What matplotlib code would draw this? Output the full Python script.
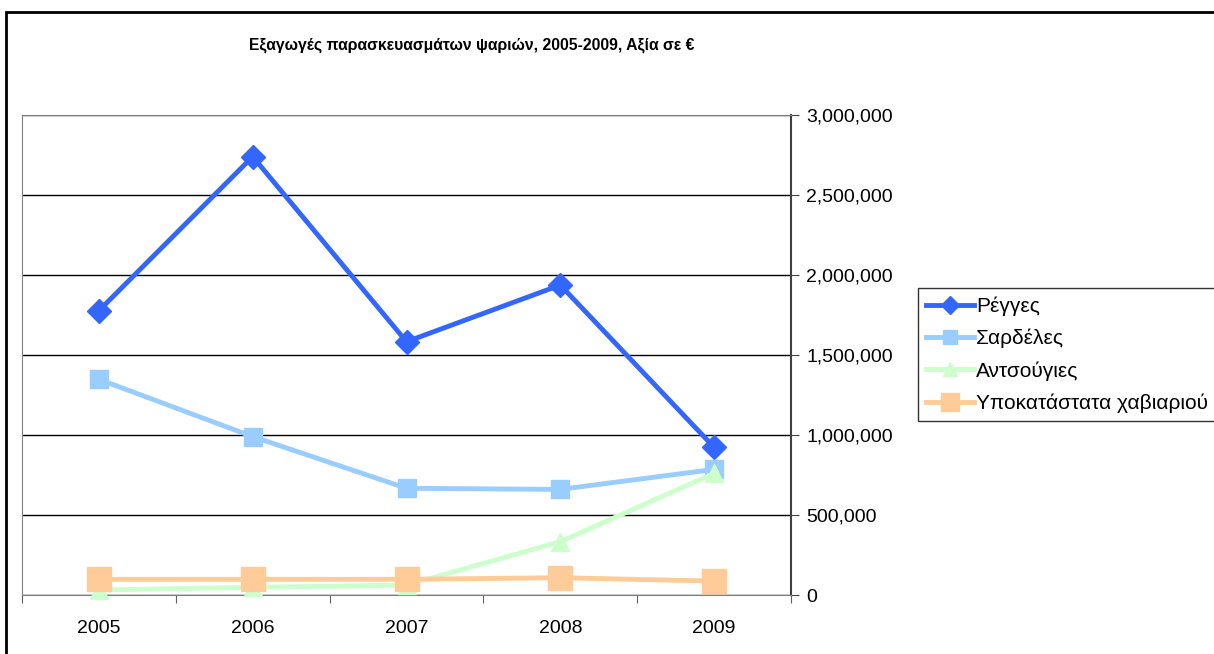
import matplotlib.pyplot as plt
from matplotlib.patches import Rectangle
from matplotlib.ticker import FuncFormatter, MultipleLocator

plt.rcParams['font.family'] = ['Liberation Sans', 'DejaVu Sans']

years = ["2005", "2006", "2007", "2008", "2009"]
herring = [1777000, 2740000, 1583000, 1937000, 923000]
sardines = [1348000, 990000, 667000, 660000, 785000]
anchovies = [31000, 48000, 62000, 333000, 760000]
caviar_subst = [98000, 98000, 98000, 108000, 87000]

labels = ["Ρέγγες", "Σαρδέλες", "Αντσούγιες", "Υποκατάστατα χαβιαριού"]
title = "Εξαγωγές παρασκευασμάτων ψαριών, 2005-2009, Αξία σε €"

W, H = 1214, 654
fig = plt.figure(figsize=(W / 100, H / 100), dpi=100)
ax = fig.add_axes([22 / W, 1 - 595 / H, (791 - 22) / W, (595 - 115) / H])

x = range(len(years))
ax.plot(x, herring, color="#3366FF", lw=3.5, marker="D", ms=12, mec="#3366FF", clip_on=False, zorder=3, label=labels[0])
ax.plot(x, sardines, color="#99CCFF", lw=3.5, marker="s", ms=13, mec="#99CCFF", clip_on=False, zorder=4, label=labels[1])
ax.plot(x, anchovies, color="#CCFFCC", lw=3.5, marker="^", ms=13, mec="#CCFFCC", clip_on=False, zorder=5, label=labels[2])
ax.plot(x, caviar_subst, color="#FFCC99", lw=3.5, marker="s", ms=17, mec="#FFCC99", clip_on=False, zorder=6, label=labels[3])

ax.set_xlim(-0.5, len(years) - 0.5)
ax.set_ylim(0, 3000000)
ax.yaxis.set_major_locator(MultipleLocator(500000))
ax.yaxis.set_major_formatter(FuncFormatter(lambda v, p: f"{int(v):,}"))
ax.yaxis.tick_right()
ax.grid(axis="y", color="black", lw=1)
ax.set_axisbelow(True)

ax.set_xticks([i - 0.5 for i in range(len(years) + 1)])
ax.set_xticklabels([])
ax.set_xticks(list(x), minor=True)
ax.set_xticklabels(years, minor=True)
ax.tick_params(axis="x", which="major", direction="out", length=6, color="#606060")
ax.tick_params(axis="x", which="minor", length=0, pad=18, labelsize=14)
ax.tick_params(axis="y", direction="out", length=6, color="#404040", pad=5, labelsize=14)

for s in ["left", "top", "bottom"]:
    ax.spines[s].set_color("#808080")
ax.spines["right"].set_color("#404040")
ax.spines["right"].set_linewidth(1.5)

fig.text(472 / W, 1 - 45 / H, title, ha="center", va="center", fontsize=11.3, fontweight="bold")

leg = fig.legend(loc="upper left", bbox_to_anchor=(918 / W, 1 - 288 / H), fontsize=15,
                 frameon=True, fancybox=False, edgecolor="black", handlelength=2.3,
                 handletextpad=0.1, borderaxespad=0, labelspacing=0.62, borderpad=0.4,
                 markerscale=0.75)
leg.get_frame().set_linewidth(1)

fig.patches.append(Rectangle((6 / W, -0.1), 1.2, 1 - 12 / H + 0.1, transform=fig.transFigure,
                             fill=False, edgecolor="black", lw=2))

fig.savefig("out.png", dpi=100)
